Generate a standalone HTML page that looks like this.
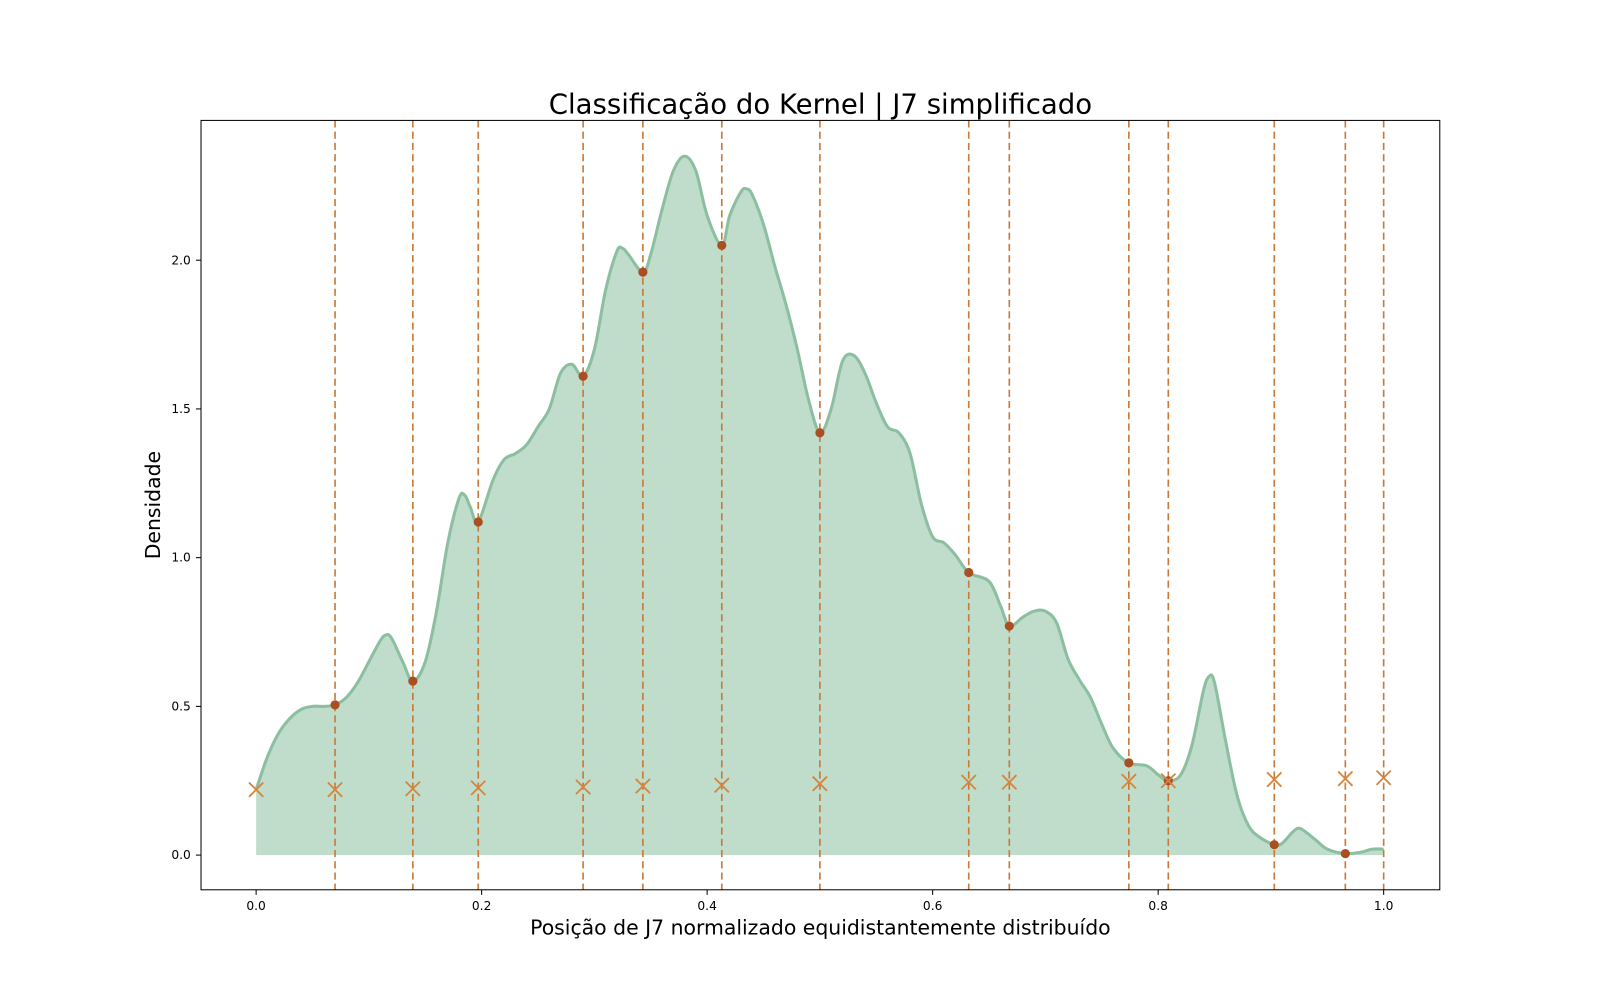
<!DOCTYPE html>
<html><head><meta charset="utf-8"><style>
body{margin:0;background:#fff}
svg{display:block;font-family:"DejaVu Sans","Liberation Sans",sans-serif}
</style></head><body>
<svg id="chart" width="1600" height="1000" xmlns="http://www.w3.org/2000/svg">
<rect width="1600" height="1000" fill="#fff"/>
<g transform="scale(1.0204)">
<text x="804" y="111" font-size="27" text-anchor="middle">Classificação do Kernel | J7 simplificado</text>
<text x="804" y="916" font-size="20" text-anchor="middle">Posição de J7 normalizado equidistantemente distribuído</text>
<text transform="translate(157,495) rotate(-90)" font-size="20" text-anchor="middle">Densidade</text>
<g id="plot"></g>
<rect x="197" y="118" width="1214" height="754" fill="none" stroke="#000" stroke-width="1"/>
</g>
</svg>
<script>
const curveX=[0,0.01,0.02,0.03,0.04,0.05,0.06,0.07,0.08,0.09,0.10,0.11,0.115,0.12,0.13,0.139,0.15,0.16,0.17,0.18,0.185,0.19,0.197,0.21,0.22,0.23,0.24,0.25,0.26,0.27,0.28,0.29,0.30,0.31,0.32,0.325,0.33,0.343,0.35,0.36,0.37,0.38,0.39,0.40,0.413,0.42,0.43,0.435,0.44,0.45,0.46,0.47,0.48,0.49,0.50,0.51,0.52,0.53,0.54,0.55,0.56,0.57,0.58,0.59,0.60,0.61,0.62,0.632,0.65,0.66,0.668,0.68,0.69,0.70,0.71,0.72,0.73,0.74,0.75,0.76,0.774,0.79,0.80,0.809,0.82,0.83,0.84,0.845,0.85,0.86,0.87,0.88,0.89,0.903,0.91,0.92,0.925,0.93,0.94,0.95,0.966,0.98,0.99,1.0];
const curveY=[0.22,0.33,0.41,0.46,0.49,0.50,0.50,0.505,0.53,0.58,0.65,0.72,0.74,0.73,0.65,0.585,0.65,0.82,1.05,1.20,1.21,1.17,1.12,1.26,1.33,1.35,1.38,1.44,1.50,1.62,1.65,1.61,1.70,1.90,2.03,2.04,2.02,1.96,2.02,2.17,2.30,2.35,2.30,2.15,2.05,2.15,2.23,2.24,2.22,2.12,1.98,1.85,1.70,1.53,1.42,1.50,1.66,1.68,1.62,1.52,1.44,1.42,1.35,1.18,1.07,1.05,1.01,0.95,0.92,0.84,0.77,0.80,0.82,0.82,0.78,0.66,0.59,0.53,0.44,0.36,0.31,0.30,0.27,0.25,0.27,0.37,0.55,0.60,0.58,0.38,0.20,0.10,0.06,0.035,0.04,0.08,0.09,0.08,0.05,0.02,0.005,0.01,0.02,0.02];
const lineX=[0.07,0.139,0.197,0.29,0.343,0.413,0.50,0.632,0.668,0.774,0.809,0.903,0.966,1.0];
const dotY=[0.505,0.585,1.12,1.61,1.96,2.05,1.42,0.95,0.77,0.31,0.25,0.035,0.005];
const crossX=[0,0.07,0.139,0.197,0.29,0.343,0.413,0.50,0.632,0.668,0.774,0.809,0.903,0.966,1.0];
const crossY=[0.22,0.22,0.223,0.226,0.229,0.232,0.235,0.24,0.245,0.245,0.248,0.25,0.254,0.257,0.26];
const xTicks=[0,0.2,0.4,0.6,0.8,1.0];
const yTicks=[0,0.5,1.0,1.5,2.0];

const NS="http://www.w3.org/2000/svg";
const g=document.getElementById('plot');
const sx=v=>251+v*1105, sy=v=>838-v*291.5;
function mk(t,a){const e=document.createElementNS(NS,t);for(const k in a)e.setAttribute(k,a[k]);g.appendChild(e);return e;}
const P=curveX.map((x,i)=>[sx(x),sy(curveY[i])]);
let d=`M${P[0][0]},${P[0][1]}`;
for(let i=0;i<P.length-1;i++){const p0=P[Math.max(0,i-1)],p1=P[i],p2=P[i+1],p3=P[Math.min(P.length-1,i+2)];
d+=` C${p1[0]+(p2[0]-p0[0])/6},${p1[1]+(p2[1]-p0[1])/6} ${p2[0]-(p3[0]-p1[0])/6},${p2[1]-(p3[1]-p1[1])/6} ${p2[0]},${p2[1]}`;}
let fa=mk('path',{d:d+` L${sx(1)},${sy(0)} L${sx(0)},${sy(0)} Z`,fill:'#c0ddcc',stroke:'none'});


let ln=mk('path',{d:d,fill:'none',stroke:'#8cbfa0','stroke-width':3});


lineX.forEach((x,i)=>{let l=mk('line',{x1:sx(x),x2:sx(x),y1:118,y2:872,stroke:'#c87a38','stroke-width':1.6,'stroke-dasharray':'7,4'});

});
dotY.forEach((y,i)=>{let c=mk('circle',{cx:sx(lineX[i]),cy:sy(y),r:4.5,fill:'#a94f22'});

});
crossX.forEach((x,i)=>{const cx=sx(x),cy=sy(crossY[i]),s=7;
let p=mk('path',{d:`M${cx-s},${cy-s}L${cx+s},${cy+s}M${cx-s},${cy+s}L${cx+s},${cy-s}`,stroke:'#d4863f','stroke-width':1.8,fill:'none'});

});
xTicks.forEach(v=>{mk('line',{x1:sx(v),x2:sx(v),y1:872,y2:877,stroke:'#000'});
let t=mk('text',{x:sx(v),y:892,'font-size':12,'text-anchor':'middle'});t.textContent=v.toFixed(1);

});
yTicks.forEach(v=>{mk('line',{x1:192,x2:197,y1:sy(v),y2:sy(v),stroke:'#000'});
let t=mk('text',{x:187,y:sy(v)+4,'font-size':12,'text-anchor':'end'});t.textContent=v.toFixed(1);

});
</script>
</body></html>
